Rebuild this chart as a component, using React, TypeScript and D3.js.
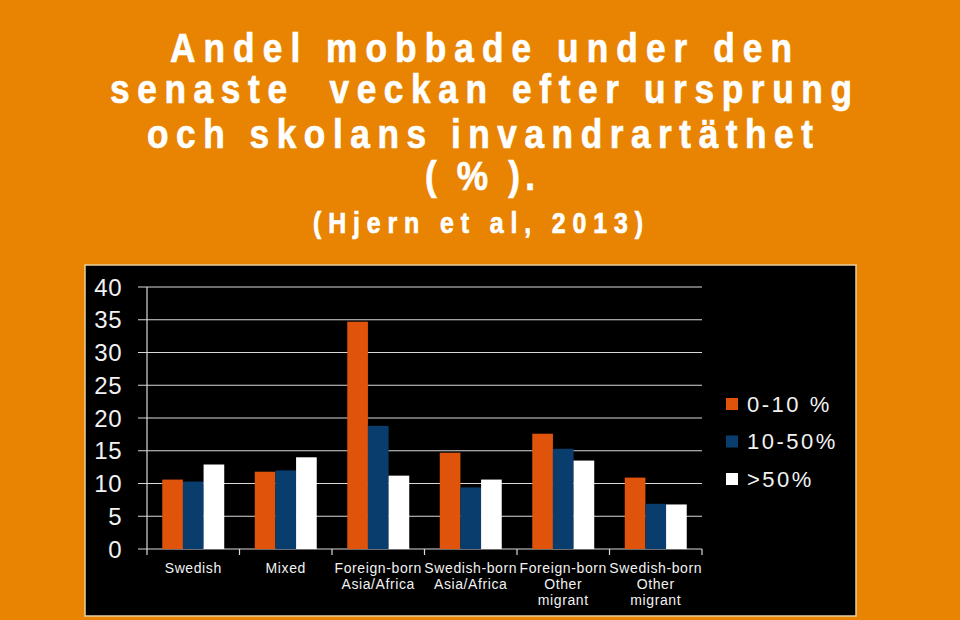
import React from "react";
import * as d3 from "d3";

const categories: string[][] = [
  ["Swedish"],
  ["Mixed"],
  ["Foreign-born", "Asia/Africa"],
  ["Swedish-born", "Asia/Africa"],
  ["Foreign-born", "Other", "migrant"],
  ["Swedish-born", "Other", "migrant"],
];
const seriesNames = ["0-10 %", "10-50%", ">50%"];
const low = [10.6, 11.8, 34.7, 14.7, 17.6, 10.9];
const mid = [10.3, 12.0, 18.8, 9.4, 15.3, 6.9];
const high = [12.9, 14.0, 11.2, 10.6, 13.5, 6.8];
const seriesValues = [low, mid, high];
const yTicks = [0, 5, 10, 15, 20, 25, 30, 35, 40];
const titleLines = [
  "Andel mobbade under den",
  "senaste  veckan efter ursprung",
  "och skolans invandrartäthet",
  "( % ).",
];
const subtitle = "(Hjern et al, 2013)";

const COLORS = ["#E0530B", "#083D6D", "#FFFFFF"];
const BG = "#E88402";
const FONT = "'Liberation Sans', Arial, Helvetica, sans-serif";

export default function App() {
  const W = 960;
  const H = 620;
  const plotLeft = 147;
  const plotRight = 702;
  const plotTop = 287;
  const plotBottom = 549;

  const idx = categories.map((_, i) => i);
  const x0 = d3
    .scaleBand<number>()
    .domain(idx)
    .range([plotLeft, plotRight])
    .paddingInner(0.33)
    .paddingOuter(0.165);
  const x1 = d3
    .scaleBand<number>()
    .domain([0, 1, 2])
    .range([0, x0.bandwidth()]);
  const y = d3.scaleLinear().domain([0, 40]).range([plotBottom, plotTop]);

  const step = x0.step();
  const boundaries = d3.range(categories.length + 1).map((i) => plotLeft + i * step);

  const sx = 0.86;
  const titleSpecs = [
    { text: titleLines[0], x0: 170, x1: 792, base: 62, size: 41 },
    { text: titleLines[1], x0: 110, x1: 852, base: 103, size: 41 },
    { text: titleLines[2], x0: 147, x1: 813, base: 148, size: 41 },
    { text: titleLines[3], x0: 425, x1: 535, base: 190, size: 41 },
    { text: subtitle, x0: 313, x1: 643, base: 233, size: 29 },
  ];

  return (
    <svg
      width={W}
      height={H}
      viewBox={`0 0 ${W} ${H}`}
      style={{ position: "absolute", left: 0, top: 0, display: "block" }}
    >
      <rect x={0} y={0} width={W} height={H} fill={BG} />
      <g transform={`scale(${sx},1)`}>
        {titleSpecs.map((t, i) => (
          <text
            key={i}
            x={t.x0 / sx}
            y={t.base}
            fill="#FFFFFF"
            stroke="#FFFFFF"
            strokeWidth={0.7}
            fontFamily={FONT}
            fontWeight="bold"
            fontSize={t.size}
            textLength={(t.x1 - t.x0) / sx}
            lengthAdjust="spacing"
            style={{ whiteSpace: "pre" }}
          >
            {t.text}
          </text>
        ))}
      </g>

      <rect x={85} y={265} width={771} height={351} fill="#000000" stroke="#E9CFA0" strokeWidth={1.5} />

      {yTicks.map((t) => (
        <line
          key={"g" + t}
          x1={138}
          x2={plotRight}
          y1={y(t)}
          y2={y(t)}
          stroke="#D9D9D9"
          strokeWidth={1.2}
        />
      ))}
      <line x1={plotLeft} x2={plotLeft} y1={plotTop} y2={plotBottom} stroke="#D9D9D9" strokeWidth={1.2} />
      {boundaries.map((b, i) => (
        <line key={"xt" + i} x1={b} x2={b} y1={plotBottom} y2={plotBottom + 6} stroke="#D9D9D9" strokeWidth={1.2} />
      ))}
      {yTicks.map((t) => (
        <text
          key={"yl" + t}
          x={122}
          y={y(t)}
          dy="0.36em"
          textAnchor="end"
          fill="#F2F2F2"
          fontFamily={FONT}
          fontSize={24}
          letterSpacing={0.5}
        >
          {t}
        </text>
      ))}

      {idx.map((ci) => (
        <g key={"grp" + ci} transform={`translate(${x0(ci)},0)`}>
          {seriesValues.map((vals, si) => (
            <rect
              key={si}
              x={x1(si)}
              y={y(vals[ci])}
              width={x1.bandwidth()}
              height={plotBottom - y(vals[ci])}
              fill={COLORS[si]}
            />
          ))}
        </g>
      ))}

      {categories.map((lines, ci) => (
        <text
          key={"cl" + ci}
          x={(x0(ci) as number) + x0.bandwidth() / 2}
          y={573}
          textAnchor="middle"
          fill="#F2F2F2"
          fontFamily={FONT}
          fontSize={14}
          letterSpacing={0.6}
        >
          {lines.map((l, li) => (
            <tspan key={li} x={(x0(ci) as number) + x0.bandwidth() / 2} dy={li === 0 ? 0 : 16}>
              {l}
            </tspan>
          ))}
        </text>
      ))}

      {seriesNames.map((name, si) => {
        const cy = 404 + si * 37.5;
        return (
          <g key={"lg" + si}>
            <rect x={726} y={cy - 6} width={12} height={12} fill={COLORS[si]} />
            <text
              x={747}
              y={cy}
              dy="0.36em"
              fill="#F2F2F2"
              fontFamily={FONT}
              fontSize={22}
              letterSpacing={2.5}
            >
              {name}
            </text>
          </g>
        );
      })}
    </svg>
  );
}
